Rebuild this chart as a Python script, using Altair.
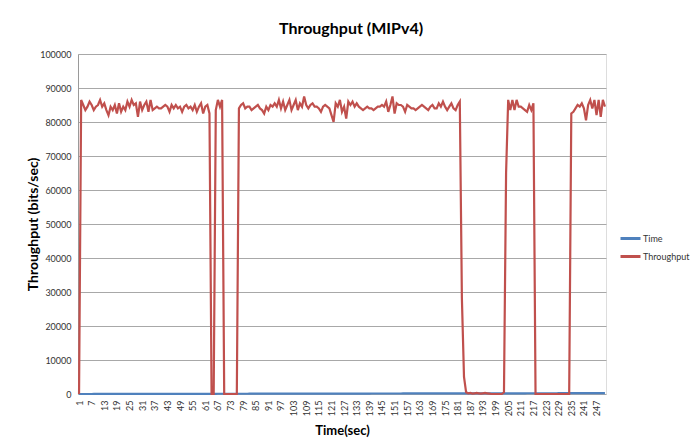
import altair as alt
import pandas as pd

# ---- data ----
seg1 = [0,
        86500, 85000, 83500, 84500, 86000, 85000, 83500, 84500, 85000, 86500,
        84500, 85500, 83500, 82000, 84500, 83500, 85000, 82500, 85500, 83000,
        84500, 83500, 86000, 84500, 86500, 85000, 85500, 81500, 86000, 83500,
        85000, 86000, 83000, 86500, 83500, 84000, 84500, 84000, 84000, 84500,
        85000, 84500, 83000, 85000, 84000, 85000, 84000, 84500, 83000, 84500,
        85000, 84000, 84500, 83500, 85000, 83000, 84500, 85500, 82500, 84500,
        85000, 82500]
gap1 = [0, 0, 83500, 86500, 84500, 86500, 0, 0, 0, 0, 0, 0, 0]
seg2a = [84000, 85000, 85500, 84000, 84500, 84500, 83500, 84000, 84500, 85000,
         84000, 83500, 82500, 84500, 83500, 85000, 84500, 85500, 84500, 86500,
         84000, 86000, 83500, 85000, 86500, 83500, 85000, 86500, 83500, 85500,
         84500, 87500, 85000, 84000, 85000, 85500, 84500, 84500, 84000, 83000,
         84500, 85000, 84500, 84000, 82000, 80000, 85500, 84500, 86500, 83000,
         84500, 81000, 86000, 85000, 86000, 84500, 85500]
seg2b = [84500, 84000, 83500, 84000, 84500, 84000, 84000, 83500, 84000, 84500,
         84500, 85000, 84500, 86000, 83000, 85000, 87500, 82500, 85500, 85000,
         85000, 84500, 83000, 85000, 84500, 84000, 84000, 83500, 84000, 84500,
         85000, 84500, 84000, 83500, 84500, 85000, 84000, 84000, 85500, 84500,
         86000, 84500, 83500, 84500, 85500, 84000, 83500, 85000, 86000]
drop2 = [28000, 5000, 500]
low2 = [200, 300, 100, 200, 300, 200, 100, 200, 300, 200, 100, 0, 0, 0, 0, 0, 0]
rise3 = [500, 65000]
seg3 = [86500, 83500, 86500, 83500, 86500, 84500, 84500, 84000, 83500, 83000,
        85000, 83500, 85500]
gap3 = [0, 0, 0, 0, 0, 0, 0, 0, 0, 0, 0, 0, 0, 0, 0, 0, 0]
seg4 = [82500, 83000, 84000, 85000, 84500, 85500, 84000, 80500, 85000, 86500,
        84000, 86500, 82000, 86500, 81500, 86500, 84500]

throughput = seg1 + gap1 + seg2a + seg2b + drop2 + low2 + rise3 + seg3 + gap3 + seg4
seconds = list(range(1, len(throughput) + 1))
time_values = seconds  # the "Time" series is the time column itself
x_label_values = list(range(1, 248, 6))
y_ticks = list(range(0, 100001, 10000))
series_names = ["Time", "Throughput"]
series_colors = ["#4f81bd", "#c0504d"]

df = pd.DataFrame({"t": seconds, "Time": time_values, "Throughput": throughput})

FONT = "Lato"
color_scale = alt.Scale(domain=series_names, range=series_colors)

x_enc = alt.X(
    "t:O",
    scale=alt.Scale(paddingOuter=0.5),
    axis=alt.Axis(
        values=x_label_values, title="Time(sec)", labelAngle=270,
        labelAlign="right", labelBaseline="middle", labelFontSize=9,
        labelPadding=6, ticks=False, domain=False, grid=False,
        titleFontSize=13, titleFontWeight="bold", titlePadding=9,
        labelColor="#333333", titleColor="#000000", labelFont=FONT, titleFont=FONT,
    ),
)
y_axis = alt.Axis(
    values=y_ticks, format="d", title="Throughput (bits/sec)", labelFontSize=9,
    labelPadding=7, ticks=False, domain=True, domainColor="#9a9a9a",
    gridColor="#a8a8a8", gridWidth=1, titleFontSize=14, titleFontWeight="bold",
    titlePadding=-1, labelColor="#333333", titleColor="#000000",
    labelFont=FONT, titleFont=FONT,
)
y_scale = alt.Scale(domain=[0, 100000], nice=False)
legend = alt.Legend(
    title=None, orient="none", legendX=541, legendY=173, symbolType="stroke",
    symbolSize=400, symbolStrokeWidth=3, labelFontSize=9, labelFont=FONT,
    labelColor="#333333", rowPadding=0, labelOffset=1,
)
color_enc = alt.Color("series:N", scale=color_scale, legend=legend)

time_line = alt.Chart(df).transform_calculate(series="'Time'").mark_line(
    strokeWidth=2.2).encode(
    x=x_enc,
    y=alt.Y("Time:Q", scale=y_scale, axis=y_axis),
    color=color_enc,
)
thr_line = alt.Chart(df).transform_calculate(series="'Throughput'").mark_line(
    strokeWidth=2.2).encode(
    x=x_enc,
    y=alt.Y("Throughput:Q", scale=y_scale, axis=y_axis),
    color=color_enc,
)
frame = alt.Chart(df).mark_rule(color="#9a9a9a", strokeWidth=1.5).encode(
    x=alt.value(614), y=alt.value(-54), y2=alt.value(394)
)

chart = alt.layer(time_line, thr_line, frame).properties(
    width=528, height=340,
    title=alt.TitleParams("Throughput (MIPv4)", fontSize=16, font=FONT,
                          fontWeight="bold", anchor="middle", offset=-38, dx=9,
                          color="#000000"),
    autosize=alt.AutoSizeParams(type="none"),
    padding={"left": 70, "top": 46, "right": 85, "bottom": 46},
).configure_view(stroke=None).configure(background="white")

chart.save("out.html", embed_options={"renderer": "svg", "actions": False})
